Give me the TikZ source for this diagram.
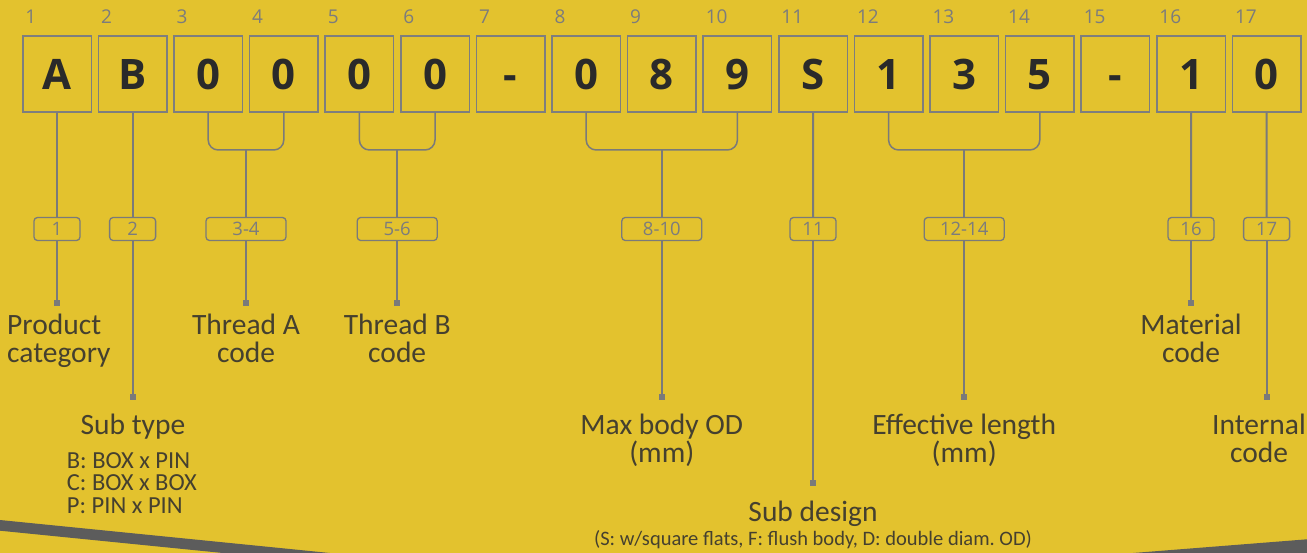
\documentclass[tikz,border=0pt]{standalone}
\usepackage{fontspec}
\setmainfont{Open Sans}
\newfontfamily\labfont{Carlito}
\frenchspacing
\definecolor{bg}{HTML}{E3C22E}
\definecolor{boxgray}{HTML}{7E7E7E}
\definecolor{linegray}{HTML}{7A7A7A}
\definecolor{numgray}{HTML}{7C7C7C}
\definecolor{letter}{HTML}{2A2A2A}
\definecolor{txt}{HTML}{45402F}
\definecolor{stripe}{HTML}{5C5C5C}
\begin{document}
\begin{tikzpicture}[x=1pt,y=-1pt,
  charbox/.style={draw=boxgray, line width=1.5pt, minimum width=68.5pt, minimum height=76pt, inner sep=0pt,
    font=\fontsize{42}{42}\selectfont\bfseries, text=letter},
  posnum/.style={anchor=base west, inner sep=0pt, font=\fontsize{19}{19}\selectfont, text=numgray},
  tagbox/.style={draw=linegray, line width=1.3pt, rounded corners=3.5pt, minimum height=23pt, inner sep=0pt,
    font=\fontsize{18.5}{18.5}\selectfont, text=numgray},
  narrowtag/.style={tagbox, minimum width=46pt},
  widetag/.style={tagbox, minimum width=80pt},
  conn/.style={draw=linegray, line width=2pt},
  marker/.style={fill=linegray, minimum size=6pt, inner sep=0pt},
  lbl/.style={font=\labfont\fontsize{29.5}{28}\selectfont, text=txt, align=center, inner sep=0pt, anchor=north},
  sublbl/.style={font=\labfont\fontsize{24.5}{22.7}\selectfont, text=txt, align=left, inner sep=0pt},
]
\fill[bg] (0,0) rectangle (1307,553);
\useasboundingbox (0,0) rectangle (1307,553);
% stripes
\fill[stripe] (0,520) -- (330,553) -- (223,553) -- (0,530.7) -- cycle;
\fill[stripe] (1133,553) -- (1307,539.3) -- (1307,553) -- cycle;

% character boxes and position numbers
\foreach \c [count=\i] in {A,B,0,0,0,0,-,0,8,9,S,1,3,5,-,1,0} {
  \node[charbox] (b\i) at ({57+75.6*(\i-1)},74) {\vphantom{0}\c};
  \node[posnum] (n\i) at ({25.2+75.6*(\i-1)},24) {\i};
}

% tag boxes
\node[narrowtag] (t1) at (57,229) {1};
\node[narrowtag] (t2) at (132.6,229) {2};
\node[widetag] (t34) at (246,229) {3-4};
\node[widetag] (t56) at (397.2,229) {5-6};
\node[widetag] (t810) at (661.8,229) {8-10};
\node[narrowtag] (t11) at (813,229) {11};
\node[widetag] (t1214) at (964.2,229) {12-14};
\node[narrowtag] (t16) at (1191,229) {16};
\node[narrowtag] (t17) at (1266.6,229) {17};

% bracket joints
\coordinate (k34) at (246,150);
\coordinate (k56) at (397.2,150);
\coordinate (k810) at (661.8,150);
\coordinate (k1214) at (964.2,150);

% markers
\node[marker] (m1) at (57,303) {};
\node[marker] (m2) at (132.6,396.5) {};
\node[marker] (m34) at (246,303) {};
\node[marker] (m56) at (397.2,303) {};
\node[marker] (m810) at (661.8,396.5) {};
\node[marker] (m11) at (813,483) {};
\node[marker] (m1214) at (964.2,396.5) {};
\node[marker] (m16) at (1191,303) {};
\node[marker] (m17) at (1266.6,396.5) {};

% brackets
\draw[conn, line width=1.5pt, rounded corners=10pt] (b3.south) |- (k34) -| (b4.south);
\draw[conn, line width=1.5pt, rounded corners=10pt] (b5.south) |- (k56) -| (b6.south);
\draw[conn, line width=1.5pt, rounded corners=10pt] (b8.south) |- (k810) -| (b10.south);
\draw[conn, line width=1.5pt, rounded corners=10pt] (b12.south) |- (k1214) -| (b14.south);

% connectors to tags
\draw[conn] (b1.south) -- (t1.north);
\draw[conn] (b2.south) -- (t2.north);
\draw[conn] (k34) -- (t34.north);
\draw[conn] (k56) -- (t56.north);
\draw[conn] (k810) -- (t810.north);
\draw[conn] (b11.south) -- (t11.north);
\draw[conn] (k1214) -- (t1214.north);
\draw[conn] (b16.south) -- (t16.north);
\draw[conn] (b17.south) -- (t17.north);

% connectors to markers
\draw[conn] (t1.south) -- (m1.center);
\draw[conn] (t2.south) -- (m2.center);
\draw[conn] (t34.south) -- (m34.center);
\draw[conn] (t56.south) -- (m56.center);
\draw[conn] (t810.south) -- (m810.center);
\draw[conn] (t11.south) -- (m11.center);
\draw[conn] (t1214.south) -- (m1214.center);
\draw[conn] (t16.south) -- (m16.center);
\draw[conn] (t17.south) -- (m17.center);

% labels
\node[lbl, anchor=north west, align=left] (L1) at (7,314) {Product\\category};
\node[lbl] (L34) at (246,314) {Thread A\\code};
\node[lbl] (L56) at (397.2,314) {Thread B\\code};
\node[lbl] (L16) at (1191,314) {Material\\code};
\node[lbl] (L2) at (133,414) {Sub type};
\node[sublbl, anchor=north west] (L2b) at (66.7,452) {B: BOX x PIN\\C: BOX x BOX\\P: PIN x PIN};
\node[lbl] (L810) at (661.8,414) {Max body OD\\(mm)};
\node[lbl] (L1214) at (964.2,414) {Effective length\\(mm)};
\node[lbl] (L17) at (1259,414) {Internal\\code};
\node[lbl] (L11) at (813,501) {Sub design};
\node[font=\labfont\fontsize{20.5}{20.5}\selectfont, text=txt, inner sep=0pt, anchor=base] (L11b) at (813,545) {(S: w/square flats, F: flush body, D: double diam. OD)};
\end{tikzpicture}
\end{document}
